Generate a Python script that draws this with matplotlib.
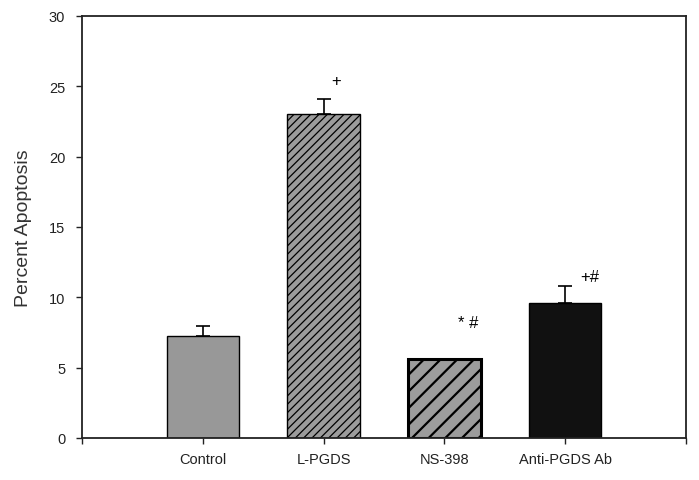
import matplotlib.pyplot as plt

plt.rcParams["font.family"] = ["Liberation Sans", "DejaVu Sans"]
plt.rcParams["hatch.linewidth"] = 1.0

groups = ["Control", "L-PGDS", "NS-398", "Anti-PGDS Ab"]
means = [7.25, 23.0, 5.6, 9.6]
errs = [0.7, 1.1, 0.0, 1.2]
marks = ["", "+", "* #", "+#"]
mark_y = [0, 25.4, 8.2, 11.5]
mark_dx = [0, 0.1, 0.2, 0.2]

fills = ["#989898", "#9c9c9c", "#9c9c9c", "#111111"]
hatches = [None, "////", "//", None]
edge_w = [1.0, 1.0, 2.2, 1.0]
hatch_w = [1.0, 0.9, 1.6, 1.0]

fig = plt.figure(figsize=(6.99, 4.81), dpi=100)
ax = fig.add_axes([82 / 699, 1 - 439 / 481, 604 / 699, 422 / 481])

pos = list(range(1, len(groups) + 1))
for p, m, e, c, h, lw, hw in zip(pos, means, errs, fills, hatches, edge_w, hatch_w):
    bars = ax.bar(p, m, width=0.6, color=c, edgecolor="black", hatch=h,
                  linewidth=lw, zorder=2)
    try:
        bars[0].set_hatch_linewidth(hw)
    except AttributeError:
        pass
    if e > 0:
        ax.errorbar(p, m, yerr=[[0], [e]], fmt="none", ecolor="black",
                    elinewidth=1.2, capsize=5, capthick=1.2, zorder=3)

for p, t, y, dx in zip(pos, marks, mark_y, mark_dx):
    if t:
        ax.text(p + dx, y, t, ha="center", va="center", fontsize=12)

ax.set_xlim(0, 5)
ax.set_ylim(0, 30)
ax.set_yticks(range(0, 31, 5))
ax.set_xticks([0] + pos + [5])
ax.set_xticklabels([""] + groups + [""])
ax.tick_params(axis="both", direction="out", length=4, width=1,
               labelsize=10.5, colors="#222222")
ax.tick_params(axis="y", pad=8)
ax.tick_params(axis="x", pad=6)
ax.set_ylabel("Percent Apoptosis", fontsize=14, labelpad=12, color="#333333")
for s in ax.spines.values():
    s.set_linewidth(1.3)
    s.set_color("#222222")

fig.savefig("out.png", dpi=100)
